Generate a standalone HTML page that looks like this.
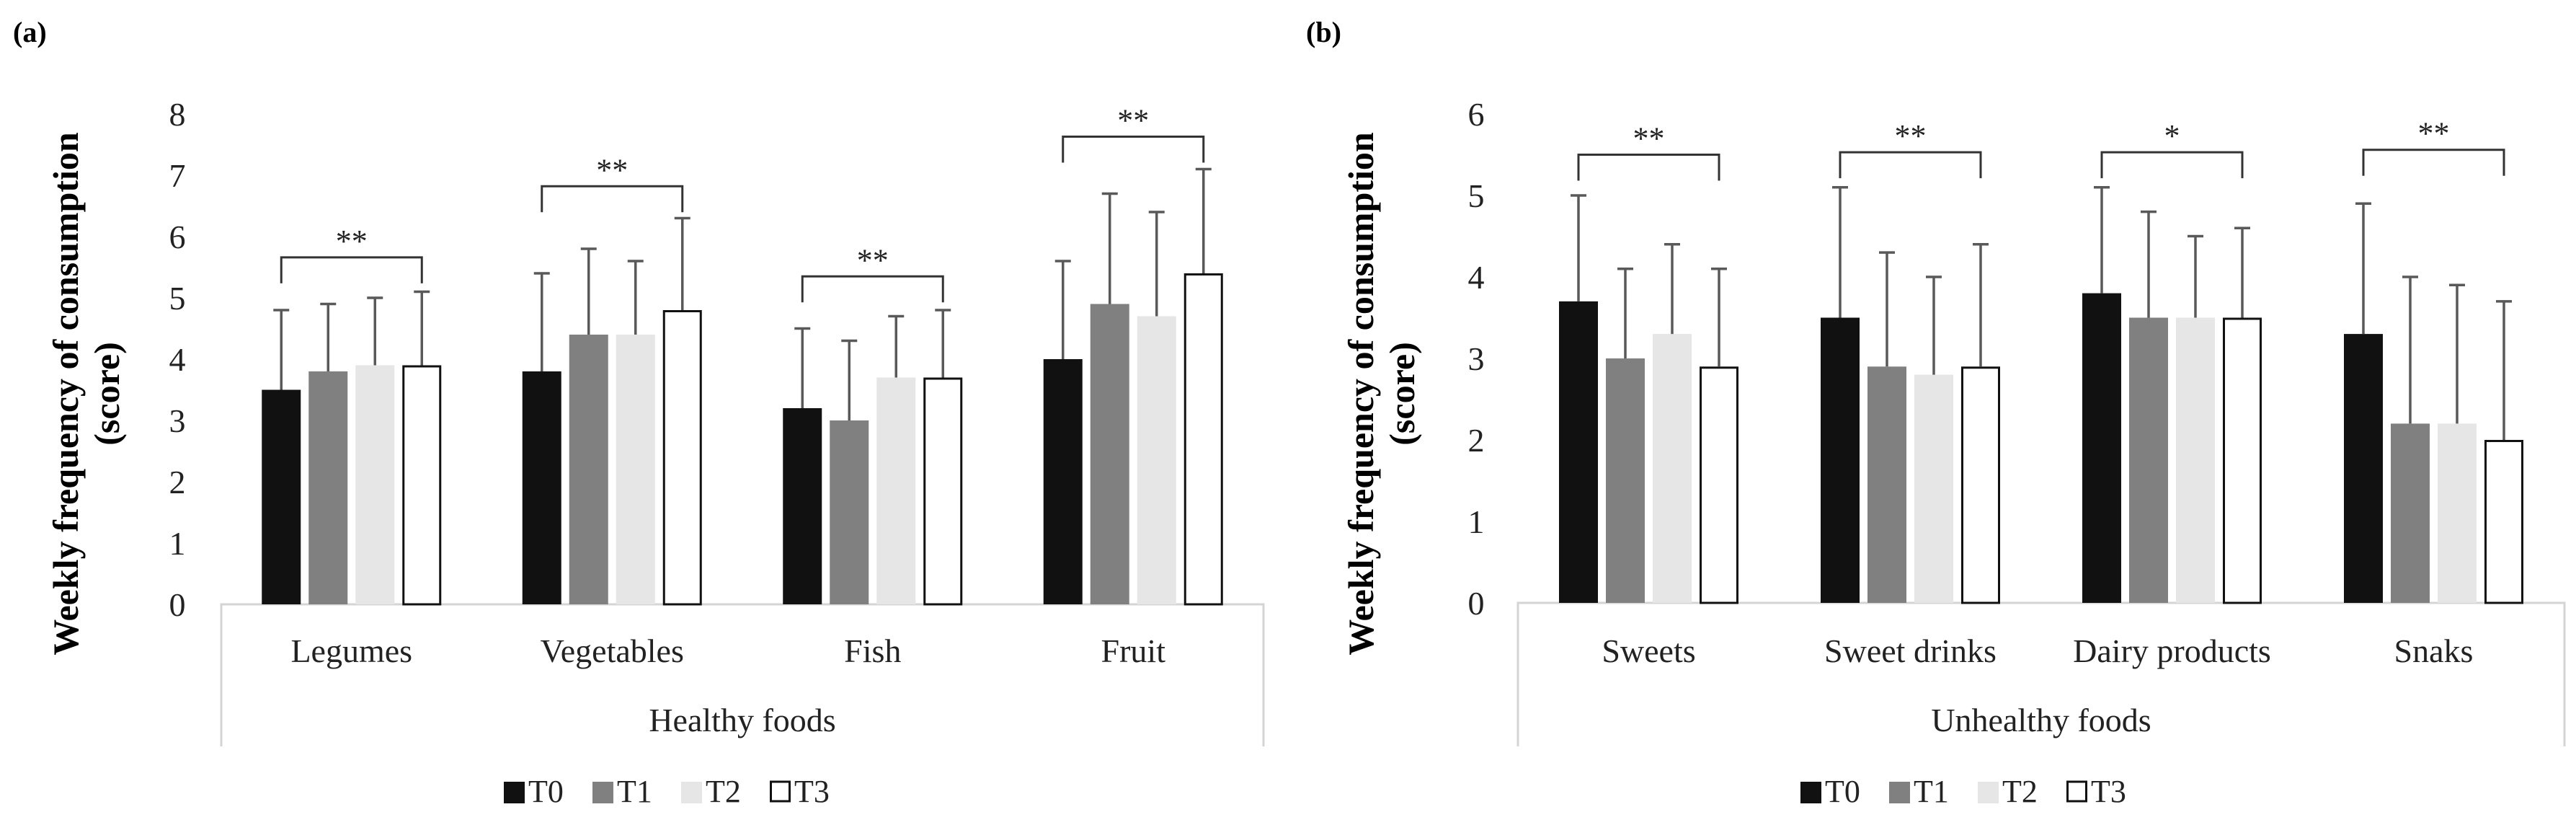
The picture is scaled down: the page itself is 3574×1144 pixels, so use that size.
<!DOCTYPE html>
<html><head><meta charset="utf-8"><style>
html,body{margin:0;padding:0;background:#fff;}
svg{display:block;}
text{font-family:"Liberation Serif",serif;}
</style></head><body>
<svg id="chart" width="3574" height="1144" viewBox="0 0 3574 1144" xmlns="http://www.w3.org/2000/svg"></svg>
<script>
const seriesNames = ["T0","T1","T2","T3"];
const catsA = ["Legumes","Vegetables","Fish","Fruit"];
const a_T0 = [3.5,3.8,3.2,4.0];
const a_T1 = [3.8,4.4,3.0,4.9];
const a_T2 = [3.9,4.4,3.7,4.7];
const a_T3 = [3.9,4.8,3.7,5.4];
const a_sd_T0 = [1.3,1.6,1.3,1.6];
const a_sd_T1 = [1.1,1.4,1.3,1.8];
const a_sd_T2 = [1.1,1.2,1.0,1.7];
const a_sd_T3 = [1.2,1.5,1.1,1.7];
const a_sig = ["**","**","**","**"];
const a_bracket = [5.66,6.82,5.35,7.63];
const a_ticks = [0,1,2,3,4,5,6,7,8];

const catsB = ["Sweets","Sweet drinks","Dairy products","Snaks"];
const b_T0 = [3.7,3.5,3.8,3.3];
const b_T1 = [3.0,2.9,3.5,2.2];
const b_T2 = [3.3,2.8,3.5,2.2];
const b_T3 = [2.9,2.9,3.5,2.0];
const b_sd_T0 = [1.3,1.6,1.3,1.6];
const b_sd_T1 = [1.1,1.4,1.3,1.8];
const b_sd_T2 = [1.1,1.2,1.0,1.7];
const b_sd_T3 = [1.2,1.5,1.1,1.7];
const b_sig = ["**","**","*","**"];
const b_bracket = [5.5,5.53,5.53,5.56];
const b_ticks = [0,1,2,3,4,5,6];

const NS="http://www.w3.org/2000/svg";
const svg=document.getElementById('chart');
const fills=["#111111","#808080","#e6e6e6","#ffffff"];
function mk(tag,attrs,parent){const e=document.createElementNS(NS,tag);for(const k in attrs)e.setAttribute(k,attrs[k]);(parent||svg).appendChild(e);return e;}

function panel(cfg){
  const g=mk('g',{});
  
  
  const y=v=>cfg.base-(v/cfg.max)*(cfg.base-cfg.top);
  const catW=(cfg.right-cfg.left)/cfg.cats.length;
  const cx=i=>cfg.left+catW*(i+0.5);
  const lbl=mk('text',{x:cfg.labelX,y:58,'font-size':40,'font-weight':'bold'},g);lbl.textContent=cfg.letter;
  
  cfg.ticks.forEach(t=>{const e=mk('text',{x:cfg.tickX,y:y(t)+16,'font-size':46,'text-anchor':'middle',fill:'#222'},g);e.textContent=t;
    });
  const yt=mk('text',{transform:`translate(${cfg.titleX},546) rotate(-90)`,'font-size':50,'font-weight':'bold','text-anchor':'middle'},g);
  yt.textContent='Weekly frequency of consumption';
  
  const yt2=mk('text',{transform:`translate(${cfg.titleX+57},546) rotate(-90)`,'font-size':50,'font-weight':'bold','text-anchor':'middle'},g);
  yt2.textContent='(score)';
  
  const box=mk('path',{d:`M${cfg.left},1035 L${cfg.left},${cfg.base} L${cfg.right},${cfg.base} L${cfg.right},1035`,fill:'none',stroke:'#d4d4d4','stroke-width':3},g);
  
  const offs=[-97.5,-32.5,32.5,97.5];
  cfg.cats.forEach((c,i)=>{
    const t=mk('text',{x:cx(i),y:918,'font-size':46,'text-anchor':'middle',fill:'#222'},g);t.textContent=c;
    
    cfg.series.forEach((s,k)=>{
      const v=s[i],bx=cx(i)+offs[k]-27;
      const r=mk('rect',{x:bx+(k==3?1.5:0),y:y(v)+(k==3?1.5:0),width:54-(k==3?3:0),height:cfg.base-y(v)-(k==3?1.5:0),fill:fills[k],stroke:k==3?'#111':'none','stroke-width':3},g);
      
      
      const top=y(v+cfg.sds[k][i]),ex=cx(i)+offs[k];
      const e=mk('path',{d:`M${ex},${y(v)} L${ex},${top} M${ex-11},${top} L${ex+11},${top}`,stroke:'#595959','stroke-width':3.5,fill:'none'},g);
      
    });
    const bt=y(cfg.bracket[i]),x1=cx(i)-97.5,x2=cx(i)+97.5;
    const br=mk('path',{d:`M${x1},${bt+36} L${x1},${bt} L${x2},${bt} L${x2},${bt+36}`,stroke:'#333','stroke-width':3,fill:'none'},g);
    
    const st=mk('text',{x:cx(i),y:bt-8,'font-size':44,'text-anchor':'middle',fill:'#222'},g);st.textContent=cfg.sig[i];
    
  });
  const xt=mk('text',{x:(cfg.left+cfg.right)/2,y:1014,'font-size':46,'text-anchor':'middle',fill:'#222'},g);xt.textContent=cfg.group;
  
  let lx=cfg.legendX;
  seriesNames.forEach((n,k)=>{
    const lg=mk('g',{},g);
    
    
    mk('rect',{x:lx+(k==3?1.5:0),y:1084,width:k==3?26:29,height:k==3?27:30,fill:fills[k],stroke:k==3?'#111':'none','stroke-width':3},lg);
    const t=mk('text',{x:lx+34,y:1112,'font-size':44,fill:'#222'},lg);t.textContent=n;
    lx+=123;
  });
}
panel({name:'panel-a-healthy-foods',letter:'(a)',labelX:18,left:307,right:1753,base:838,top:158,max:8,ticks:a_ticks,tickX:246,titleX:108,
  cats:catsA,series:[a_T0,a_T1,a_T2,a_T3],sds:[a_sd_T0,a_sd_T1,a_sd_T2,a_sd_T3],sig:a_sig,bracket:a_bracket,group:'Healthy foods',legendX:699});
panel({name:'panel-b-unhealthy-foods',letter:'(b)',labelX:1812,left:2106,right:3558,base:836,top:158,max:6,ticks:b_ticks,tickX:2048,titleX:1905,
  cats:catsB,series:[b_T0,b_T1,b_T2,b_T3],sds:[b_sd_T0,b_sd_T1,b_sd_T2,b_sd_T3],sig:b_sig,bracket:b_bracket,group:'Unhealthy foods',legendX:2498});
</script>
</body></html>
